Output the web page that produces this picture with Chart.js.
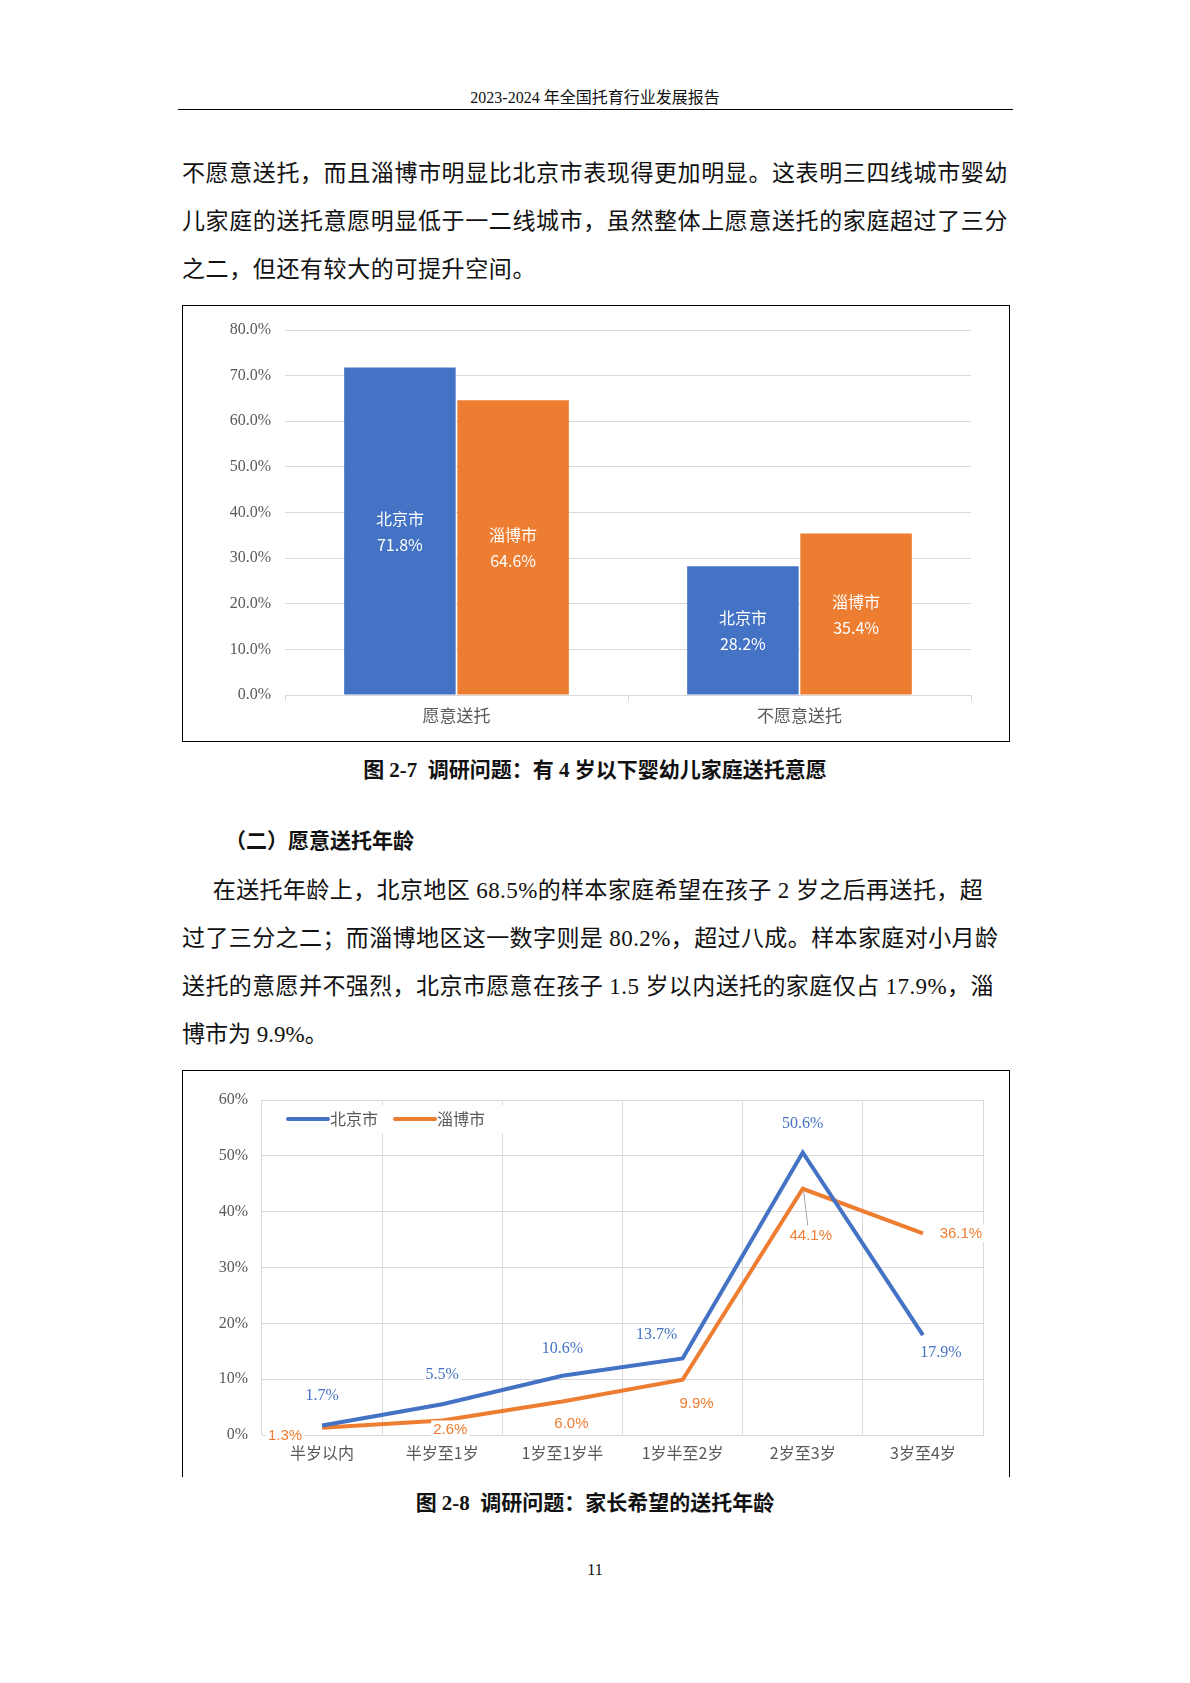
<!DOCTYPE html>
<html><head><meta charset="utf-8">
<script src="https://cdn.jsdelivr.net/npm/chart.js@4"></script>
<style>
body{margin:0;width:1190px;height:1683px;background:#fff;position:relative;font-family:"Liberation Serif","Noto Sans CJK SC";color:#111;}
.a{position:absolute;white-space:nowrap;}
.p{font-size:23px;left:182px;line-height:48px;}
.cap{font-weight:bold;font-size:21px;width:1190px;text-align:center;left:0;}
</style></head><body>
<div class="a" style="left:0;width:1190px;text-align:center;top:84px;font-size:16px;">2023-2024 年全国托育行业发展报告</div>
<div class="a" style="left:178px;width:835px;top:109px;border-top:1.5px solid #000;"></div>
<div class="a p" style="top:150px;letter-spacing:0.6px">不愿意送托，而且淄博市明显比北京市表现得更加明显。这表明三四线城市婴幼</div>
<div class="a p" style="top:198px;letter-spacing:0.6px">儿家庭的送托意愿明显低于一二线城市，虽然整体上愿意送托的家庭超过了三分</div>
<div class="a p" style="top:246px;letter-spacing:0.6px">之二，但还有较大的可提升空间。</div>
<div class="a" style="left:182px;top:305px;width:826px;height:435px;border:1.5px solid #000;"><canvas id="c1"></canvas></div>
<div class="a cap" style="top:753px;">图 2-7&nbsp; 调研问题：有 4 岁以下婴幼儿家庭送托意愿</div>
<div class="a" style="left:225px;top:824px;font-size:21px;font-weight:bold;">（二）愿意送托年龄</div>
<div class="a p" style="top:867px;letter-spacing:0.4px">&nbsp;&nbsp;&nbsp;&nbsp;&nbsp;在送托年龄上，北京地区 68.5%的样本家庭希望在孩子 2 岁之后再送托，超</div>
<div class="a p" style="top:915px;letter-spacing:0.4px">过了三分之二；而淄博地区这一数字则是 80.2%，超过八成。样本家庭对小月龄</div>
<div class="a p" style="top:963px;letter-spacing:0.4px">送托的意愿并不强烈，北京市愿意在孩子 1.5 岁以内送托的家庭仅占 17.9%，淄</div>
<div class="a p" style="top:1011px;">博市为 9.9%。</div>
<div class="a" style="left:182px;top:1070px;width:826px;height:406px;border:1.5px solid #000;border-bottom:none;"><canvas id="c2"></canvas></div>
<div class="a cap" style="top:1486px;">图 2-8&nbsp; 调研问题：家长希望的送托年龄</div>
<div class="a" style="left:0;width:1190px;text-align:center;top:1561px;font-size:16px;">11</div>
<script>
const cats1=['愿意送托','不愿意送托'];
const bj1=[71.8,28.2];
const zb1=[64.6,35.4];
const ticks1=[0,10,20,30,40,50,60,70,80];
const cats2=['半岁以内','半岁至1岁','1岁至1岁半','1岁半至2岁','2岁至3岁','3岁至4岁'];
const bj2=[1.7,5.5,10.6,13.7,50.6,17.9];
const zb2=[1.3,2.6,6.0,9.9,44.1,36.1];
const BLUE='#4472C4',ORANGE='#ED7D31',GRID='#d9d9d9',TXT='#595959';
const CJK='"Noto Sans CJK SC"';

const barLabels={id:'bl',afterDatasetsDraw(ch){const c=ch.ctx;c.save();c.fillStyle='#fff';c.font='16px '+CJK;c.textAlign='center';c.textBaseline='middle';
ch.data.datasets.forEach((ds,i)=>{ch.getDatasetMeta(i).data.forEach((b,j)=>{const my=(b.y+b.base)/2;c.fillText(ds.label,b.x,my-12);c.fillText(ds.data[j].toFixed(1)+'%',b.x,my+14);});});c.restore();}};
new Chart(document.getElementById('c1'),{type:'bar',
data:{labels:cats1,datasets:[{label:'北京市',data:bj1,backgroundColor:BLUE},{label:'淄博市',data:zb1,backgroundColor:ORANGE}]},
options:{responsive:true,maintainAspectRatio:false,animation:false,layout:{autoPadding:false,padding:{top:24,right:38}},
categoryPercentage:0.66,barPercentage:0.985,
plugins:{legend:{display:false},tooltip:{enabled:false}},
scales:{y:{min:0,max:80,afterFit:s=>{s.width=102},afterBuildTicks:s=>{s.ticks=ticks1.map(v=>({value:v}))},grid:{color:GRID,drawTicks:false},border:{display:false},ticks:{padding:14,color:TXT,font:{size:16,family:'"Liberation Serif"'},callback:v=>v.toFixed(1)+'%'}},
x:{afterFit:s=>{s.height=46},grid:{offset:true,color:GRID,drawOnChartArea:false,tickLength:6},border:{color:GRID},ticks:{color:TXT,font:{size:17,family:CJK},padding:4}}}},
plugins:[barLabels]});

const offB=[[0,-30],[0,-29],[0,-27],[-26,-24],[0,-29],[18,18]];
const offO=[[-37,8],[8,9],[9,22],[14,24],[8,47],[38,0]];
const lineLabels={id:'ll',afterDatasetsDraw(ch){const c=ch.ctx;c.save();c.textAlign='center';c.textBaseline='middle';
[[0,offB,BLUE,'16px "Liberation Serif"'],[1,offO,ORANGE,'15px "Liberation Sans"']].forEach(([i,off,col,f])=>{
ch.getDatasetMeta(i).data.forEach((p,j)=>{const x=p.x+off[j][0],y=p.y+off[j][1];
if(i==1&&j==4){c.strokeStyle='#a6a6a6';c.lineWidth=1;c.beginPath();c.moveTo(p.x+1,p.y+3);c.lineTo(x-3,y-10);c.stroke();}
const t=ch.data.datasets[i].data[j].toFixed(1)+'%';c.font=f;const w=c.measureText(t).width;c.fillStyle='#fff';c.fillRect(x-w/2-2,y-9,w+4,18);c.fillStyle=col;c.fillText(t,x,y);});});c.restore();}};
new Chart(document.getElementById('c2'),{type:'line',
data:{labels:cats2,datasets:[{label:'北京市',data:bj2,borderColor:BLUE,backgroundColor:BLUE,borderWidth:4,pointRadius:0,tension:0},{label:'淄博市',data:zb2,borderColor:ORANGE,backgroundColor:ORANGE,borderWidth:4,pointRadius:0,tension:0}]},
options:{responsive:true,maintainAspectRatio:false,animation:false,layout:{autoPadding:false,padding:{top:29,right:26}},
plugins:{tooltip:{enabled:false},legend:{display:false}},
scales:{y:{min:0,max:60,afterFit:s=>{s.width=79},grid:{color:GRID,drawTicks:false},border:{display:false},ticks:{stepSize:10,padding:14,color:TXT,font:{size:16,family:'"Liberation Serif"'},callback:v=>v+'%'}},
x:{offset:true,afterFit:s=>{s.height=42},grid:{offset:true,color:GRID,drawTicks:false},border:{color:GRID},ticks:{color:TXT,font:{size:16,family:CJK},padding:8}}}},
plugins:[lineLabels,{id:'lg',afterDraw(ch){const c=ch.ctx;c.save();const y=48;c.fillStyle='#fff';c.fillRect(100,y-14,230,28);
[[105,BLUE,'北京市'],[212,ORANGE,'淄博市']].forEach(([x,col,t])=>{c.strokeStyle=col;c.lineWidth=4;c.lineCap='round';c.beginPath();c.moveTo(x,y);c.lineTo(x+40,y);c.stroke();c.fillStyle=TXT;c.font='16px '+CJK;c.textBaseline='middle';c.fillText(t,x+42,y);});c.restore();}}]});
</script></body></html>
